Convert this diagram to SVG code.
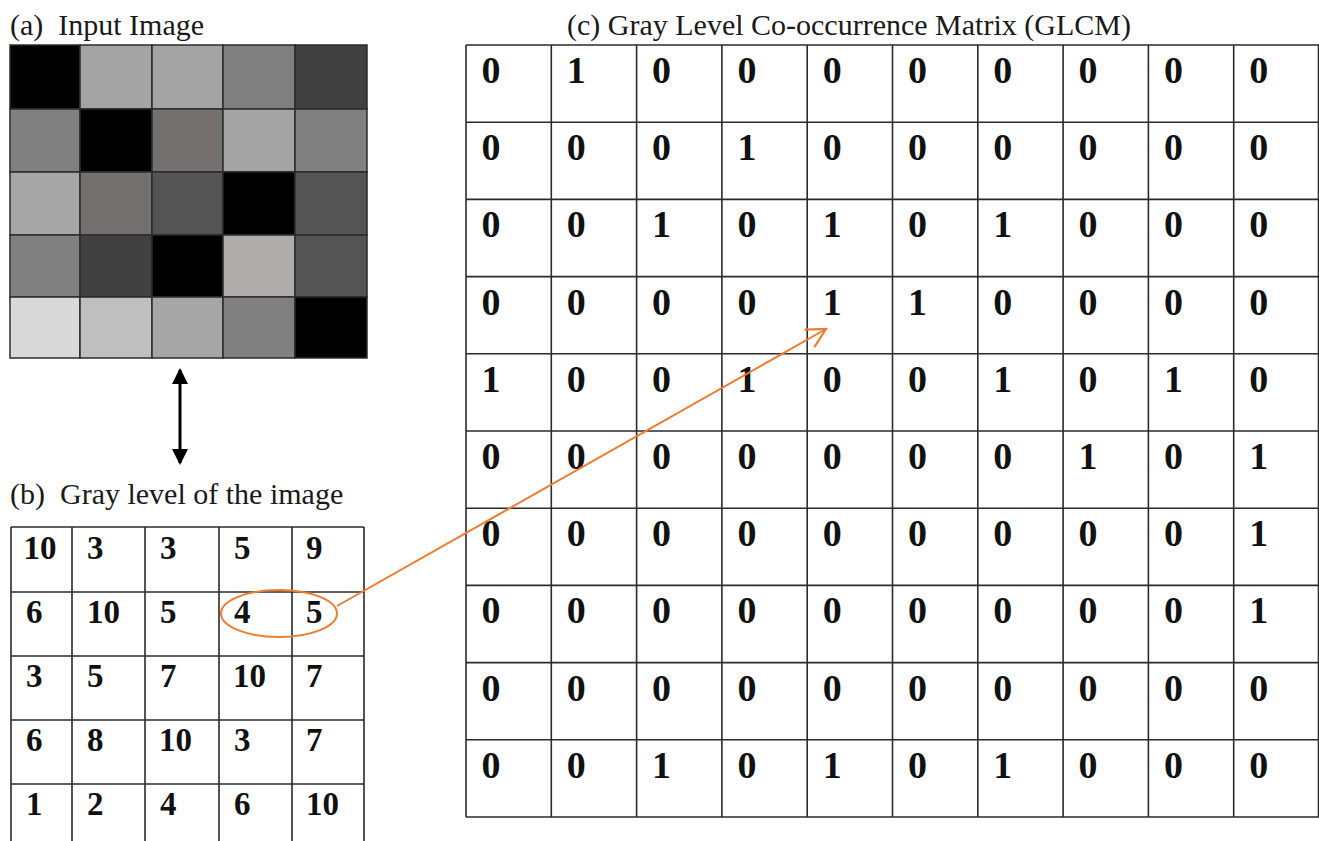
<svg xmlns="http://www.w3.org/2000/svg" width="1319" height="841" viewBox="0 0 1319 841">
  <style>
    .title { font-family: "Liberation Serif", "Times New Roman", serif; font-size: 30px; fill: #1a1a1a; }
    .grid { fill: none; stroke: #2b2b2b; stroke-width: 1.6; }
    .px { stroke: #2b2b2b; stroke-width: 1.5; }
    .num { font-family: "Liberation Serif", "Times New Roman", serif; font-weight: bold; fill: #111; }
    .g { font-size: 33px; }
    .m { font-size: 38px; }
  </style>
  <defs>
    <marker id="headFill" viewBox="0 0 16 16" refX="14" refY="8" markerWidth="16" markerHeight="16" markerUnits="userSpaceOnUse" orient="auto-start-reverse">
      <path d="M0,0 L16,8 L0,16 Z" fill="#000"/>
    </marker>
    <marker id="headOpen" viewBox="-22 -12 24 24" refX="0" refY="0" markerWidth="24" markerHeight="24" markerUnits="userSpaceOnUse" orient="auto">
      <path d="M-19,-10 L0,0 L-19,10" fill="none" stroke="#ED7D31" stroke-width="2.2" stroke-linejoin="miter"/>
    </marker>
  </defs>

  <rect width="1319" height="841" fill="#fff"/>

  <!-- (a) input image: 5x5 pixel blocks -->
  <g id="input-image">
    <text class="title" x="10" y="35" xml:space="preserve">(a)  Input Image</text>
    <g class="px">
      <rect x="10" y="45" width="70" height="64" fill="#000"/>
      <rect x="80" y="45" width="72" height="64" fill="#a4a4a4"/>
      <rect x="152" y="45" width="71" height="64" fill="#a4a4a4"/>
      <rect x="223" y="45" width="72" height="64" fill="#808080"/>
      <rect x="295" y="45" width="72" height="64" fill="#404040"/>

      <rect x="10" y="109" width="70" height="63" fill="#808080"/>
      <rect x="80" y="109" width="72" height="63" fill="#000"/>
      <rect x="152" y="109" width="71" height="63" fill="#747070"/>
      <rect x="223" y="109" width="72" height="63" fill="#a4a4a4"/>
      <rect x="295" y="109" width="72" height="63" fill="#808080"/>

      <rect x="10" y="172" width="70" height="63" fill="#a6a6a6"/>
      <rect x="80" y="172" width="72" height="63" fill="#747070"/>
      <rect x="152" y="172" width="71" height="63" fill="#545454"/>
      <rect x="223" y="172" width="72" height="63" fill="#000"/>
      <rect x="295" y="172" width="72" height="63" fill="#545454"/>

      <rect x="10" y="235" width="70" height="62" fill="#808080"/>
      <rect x="80" y="235" width="72" height="62" fill="#404040"/>
      <rect x="152" y="235" width="71" height="62" fill="#000"/>
      <rect x="223" y="235" width="72" height="62" fill="#b0acab"/>
      <rect x="295" y="235" width="72" height="62" fill="#545454"/>

      <rect x="10" y="297" width="70" height="61" fill="#d9d9d9"/>
      <rect x="80" y="297" width="72" height="61" fill="#bfbfbf"/>
      <rect x="152" y="297" width="71" height="61" fill="#a6a6a6"/>
      <rect x="223" y="297" width="72" height="61" fill="#808080"/>
      <rect x="295" y="297" width="72" height="61" fill="#000"/>
    </g>
  </g>

  <!-- (b) gray level table -->
  <g id="gray-levels">
    <text class="title" x="10" y="504" xml:space="preserve">(b)  Gray level of the image</text>
    <path class="grid" d="M11,527 H364 M11,592 H364 M11,656 H364 M11,720 H364 M11,784 H364
                          M11,527 V841 M72,527 V841 M145,527 V841 M219,527 V841 M292,527 V841 M364,527 V841"/>
    <g class="num g">
      <text x="23.5" y="559">10</text><text x="87" y="559">3</text><text x="160" y="559">3</text><text x="234" y="559">5</text><text x="306" y="559">9</text>
      <text x="26" y="623">6</text><text x="87" y="623">10</text><text x="160" y="623">5</text><text x="234" y="623">4</text><text x="306" y="623">5</text>
      <text x="26" y="687">3</text><text x="87" y="687">5</text><text x="160" y="687">7</text><text x="233" y="687">10</text><text x="306" y="687">7</text>
      <text x="26" y="751">6</text><text x="87" y="751">8</text><text x="159" y="751">10</text><text x="234" y="751">3</text><text x="306" y="751">7</text>
      <text x="26" y="815">1</text><text x="87" y="815">2</text><text x="160" y="815">4</text><text x="234" y="815">6</text><text x="306" y="815">10</text>
    </g>
  </g>

  <!-- (c) co-occurrence matrix, 10x10 -->
  <g id="glcm">
    <text class="title" x="567" y="35">(c) Gray Level Co-occurrence Matrix (GLCM)</text>
    <path class="grid" d="M466,45 H1319 M466,122.2 H1319 M466,199.4 H1319 M466,276.6 H1319 M466,353.8 H1319 M466,431 H1319 M466,508.2 H1319 M466,585.4 H1319 M466,662.6 H1319 M466,739.8 H1319 M466,817 H1319
                          M466,45 V817 M551.3,45 V817 M636.6,45 V817 M721.9,45 V817 M807.2,45 V817 M892.5,45 V817 M977.8,45 V817 M1063.1,45 V817 M1148.4,45 V817 M1233.7,45 V817 M1318.5,45 V817"/>
    <g class="num m">
      <g transform="translate(0,83)">
        <text x="481.5">0</text><text x="566.8">1</text><text x="652.1">0</text><text x="737.4">0</text><text x="822.7">0</text><text x="908">0</text><text x="993.3">0</text><text x="1078.6">0</text><text x="1163.9">0</text><text x="1249.2">0</text>
      </g>
      <g transform="translate(0,160.2)">
        <text x="481.5">0</text><text x="566.8">0</text><text x="652.1">0</text><text x="737.4">1</text><text x="822.7">0</text><text x="908">0</text><text x="993.3">0</text><text x="1078.6">0</text><text x="1163.9">0</text><text x="1249.2">0</text>
      </g>
      <g transform="translate(0,237.4)">
        <text x="481.5">0</text><text x="566.8">0</text><text x="652.1">1</text><text x="737.4">0</text><text x="822.7">1</text><text x="908">0</text><text x="993.3">1</text><text x="1078.6">0</text><text x="1163.9">0</text><text x="1249.2">0</text>
      </g>
      <g transform="translate(0,314.6)">
        <text x="481.5">0</text><text x="566.8">0</text><text x="652.1">0</text><text x="737.4">0</text><text x="822.7">1</text><text x="908">1</text><text x="993.3">0</text><text x="1078.6">0</text><text x="1163.9">0</text><text x="1249.2">0</text>
      </g>
      <g transform="translate(0,391.8)">
        <text x="481.5">1</text><text x="566.8">0</text><text x="652.1">0</text><text x="737.4">1</text><text x="822.7">0</text><text x="908">0</text><text x="993.3">1</text><text x="1078.6">0</text><text x="1163.9">1</text><text x="1249.2">0</text>
      </g>
      <g transform="translate(0,469)">
        <text x="481.5">0</text><text x="566.8">0</text><text x="652.1">0</text><text x="737.4">0</text><text x="822.7">0</text><text x="908">0</text><text x="993.3">0</text><text x="1078.6">1</text><text x="1163.9">0</text><text x="1249.2">1</text>
      </g>
      <g transform="translate(0,546.2)">
        <text x="481.5">0</text><text x="566.8">0</text><text x="652.1">0</text><text x="737.4">0</text><text x="822.7">0</text><text x="908">0</text><text x="993.3">0</text><text x="1078.6">0</text><text x="1163.9">0</text><text x="1249.2">1</text>
      </g>
      <g transform="translate(0,623.4)">
        <text x="481.5">0</text><text x="566.8">0</text><text x="652.1">0</text><text x="737.4">0</text><text x="822.7">0</text><text x="908">0</text><text x="993.3">0</text><text x="1078.6">0</text><text x="1163.9">0</text><text x="1249.2">1</text>
      </g>
      <g transform="translate(0,700.6)">
        <text x="481.5">0</text><text x="566.8">0</text><text x="652.1">0</text><text x="737.4">0</text><text x="822.7">0</text><text x="908">0</text><text x="993.3">0</text><text x="1078.6">0</text><text x="1163.9">0</text><text x="1249.2">0</text>
      </g>
      <g transform="translate(0,777.8)">
        <text x="481.5">0</text><text x="566.8">0</text><text x="652.1">1</text><text x="737.4">0</text><text x="822.7">1</text><text x="908">0</text><text x="993.3">1</text><text x="1078.6">0</text><text x="1163.9">0</text><text x="1249.2">0</text>
      </g>
    </g>
  </g>

  <!-- connectors: image <-> gray levels, highlighted pair -> matrix entry -->
  <g id="connectors">
    <line x1="180" y1="370" x2="180" y2="463" stroke="#000" stroke-width="3" marker-start="url(#headFill)" marker-end="url(#headFill)"/>
    <ellipse cx="279" cy="613.5" rx="58" ry="23.5" fill="none" stroke="#ED7D31" stroke-width="2"/>
    <line x1="337" y1="606" x2="826" y2="329" stroke="#ED7D31" stroke-width="2" marker-end="url(#headOpen)"/>
  </g>
</svg>
